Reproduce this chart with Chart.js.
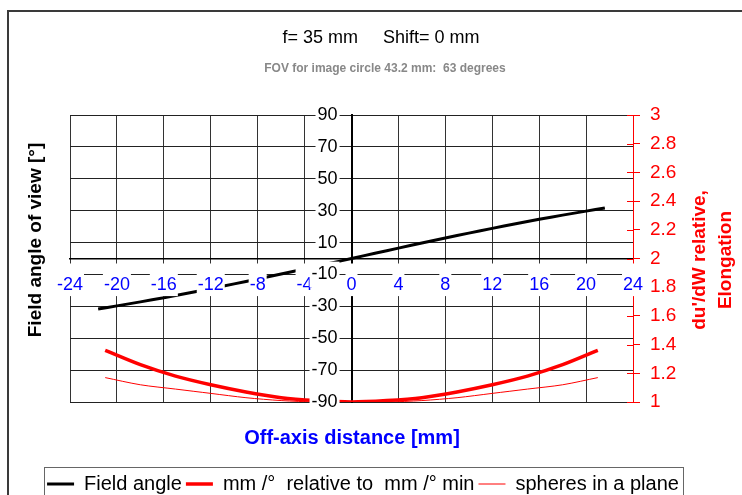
<!DOCTYPE html>
<html><head><meta charset="utf-8">
<script src="https://cdn.jsdelivr.net/npm/chart.js@4.4.1/dist/chart.umd.min.js"></script>
<style>
html,body{margin:0;padding:0;background:#fff;overflow:hidden;width:742px;height:495px;}
#wrap{position:relative;width:742px;height:495px;overflow:hidden;font-family:"Liberation Sans",Arial,sans-serif;}
#frame{position:absolute;left:7px;top:10px;width:800px;height:600px;border:2px solid #3a3a3a;}
#legbox{position:absolute;left:44px;top:467px;width:638px;height:60px;border:1px solid #666;}
canvas{position:absolute;left:0;top:0;}
.t{position:absolute;white-space:pre;text-align:center;}
</style></head>
<body><div id="wrap">
<div id="frame"></div>
<div id="legbox"></div>
<canvas id="c" width="742" height="504"></canvas>
<div class="t" style="left:181px;top:27px;width:400px;font-size:18px;line-height:20px;color:#000;">f= 35 mm     Shift= 0 mm</div>
<div class="t" style="left:185px;top:61px;width:400px;font-size:12px;line-height:14px;font-weight:bold;color:#888;">FOV for image circle 43.2 mm:  63 degrees</div>
<div class="t" style="left:152px;top:425px;width:400px;font-size:20px;line-height:24px;font-weight:bold;color:#0000ff;">Off-axis distance [mm]</div>
<div class="t" style="left:-115px;top:228px;width:300px;height:24px;font-size:19px;line-height:24px;font-weight:bold;color:#000;transform:rotate(-90deg);">Field angle of view [°]</div>
<div class="t" style="left:562px;top:234px;width:300px;height:52px;font-size:19px;line-height:26px;font-weight:bold;color:#ff0000;transform:rotate(-90deg);">du'/dW relative,
Elongation</div>
</div>
<script>
const xTicks = [-24,-20,-16,-12,-8,-4,0,4,8,12,16,20,24];
const yTicks = [-90,-70,-50,-30,-10,10,30,50,70,90];
const y1Ticks = [1,1.2,1.4,1.6,1.8,2,2.2,2.4,2.6,2.8,3];

const seriesNames = ['Field angle','mm /°  relative to  mm /° min','spheres in a plane'];

const fieldX = [-21.6,-20,-18,-16,-14,-12,-10,-8,-6,-4,-2,0,2,4,6,8,10,12,14,16,18,20,21.6];
const fieldAngle = [-31.7,-29.7,-27.2,-24.6,-21.8,-18.9,-15.9,-12.9,-9.7,-6.5,-3.3,0,3.3,6.5,9.7,12.9,15.9,18.9,21.8,24.6,27.2,29.7,31.7];

const ratioX = [-21,-18,-15,-12,-9,-6,-3,0,3,6,9,12,15,18,21];
const mmPerDegRel = [1.36,1.26,1.18,1.12,1.07,1.03,1.01,1,1.01,1.03,1.07,1.12,1.18,1.26,1.36];
const spheres = [1.17,1.12,1.09,1.06,1.03,1.01,1.0,1,1.0,1.01,1.03,1.06,1.09,1.12,1.17];

Chart.defaults.font.family = '"Liberation Sans", Arial, sans-serif';

const pts = (xs, ys) => xs.map((x, i) => ({x: x, y: ys[i]}));
const setTicks = arr => s => { s.ticks = arr.map(v => ({value: v})); };

const innerTicks = {
  id: 'innerTicks',
  afterDatasetsDraw(chart) {
    const s = chart.scales.y1, ctx = chart.ctx;
    ctx.save();
    ctx.strokeStyle = '#ff0000';
    ctx.lineWidth = 1;
    s.ticks.forEach(t => {
      const py = Math.round(s.getPixelForValue(t.value)) + 0.5;
      ctx.beginPath(); ctx.moveTo(s.left - 6, py); ctx.lineTo(s.left, py); ctx.stroke();
    });
    ctx.restore();
  }
};

new Chart(document.getElementById('c'), {
  type: 'line',
  data: {
    datasets: [
      {label: seriesNames[0], data: pts(fieldX, fieldAngle), borderColor: '#000000', backgroundColor: '#000000',
       borderWidth: 3, pointRadius: 0, tension: 0.3, xAxisID: 'x', yAxisID: 'y'},
      {label: seriesNames[1], data: pts(ratioX, mmPerDegRel), borderColor: '#ff0000', backgroundColor: '#ff0000',
       borderWidth: 3.5, pointRadius: 0, tension: 0.3, xAxisID: 'x', yAxisID: 'y1'},
      {label: seriesNames[2], data: pts(ratioX, spheres), borderColor: '#ff0000', backgroundColor: '#ff0000',
       borderWidth: 1, pointRadius: 0, tension: 0.3, xAxisID: 'x', yAxisID: 'y1'}
    ]
  },
  options: {
    responsive: false,
    animation: false,
    layout: {padding: {top: 115, left: 0, right: 16, bottom: 0}},
    plugins: {
      title: {display: false},
      tooltip: {enabled: false},
      legend: {
        position: 'bottom',
        labels: {usePointStyle: true, pointStyle: 'line', pointStyleWidth: 27, padding: 4,
                 color: '#000', font: {size: 20}}
      }
    },
    scales: {
      x: {
        type: 'linear', position: {y: 0}, min: -24, max: 24,
        afterBuildTicks: setTicks(xTicks),
        grid: {color: '#333', lineWidth: 1, tickLength: 5},
        border: {color: '#000', width: 1.5},
        ticks: {color: '#0000ff', font: {size: 18}, padding: 11, autoSkip: false, maxRotation: 0,
                showLabelBackdrop: true, backdropColor: '#ffffff',
                backdropPadding: {top: 11, bottom: 0, left: 1, right: 1}, z: 1}
      },
      y: {
        type: 'linear', position: {x: 0}, min: -90, max: 90,
        afterBuildTicks: setTicks(yTicks),
        grid: {color: '#222', lineWidth: 1, tickLength: 12},
        border: {color: '#000', width: 2},
        ticks: {display: false}
      },
      yLab: {
        type: 'linear', position: {x: -1.19}, min: -90, max: 90,
        afterBuildTicks: setTicks(yTicks),
        grid: {display: false},
        border: {display: false},
        ticks: {color: '#000', font: {size: 18}, padding: 0, autoSkip: false,
                showLabelBackdrop: true, backdropColor: '#ffffff', backdropPadding: 2, z: 1}
      },
      y1: {
        type: 'linear', position: 'right', min: 1, max: 3,
        afterBuildTicks: setTicks(y1Ticks),
        afterFit: s => { s.width = 93; },
        grid: {drawOnChartArea: false, color: '#ff0000', tickLength: 7},
        border: {color: '#ff0000', width: 1},
        ticks: {color: '#ff0000', font: {size: 19}, padding: 10, autoSkip: false, callback: v => String(v)}
      },
      padL: {
        type: 'linear', position: 'left', display: true,
        afterFit: s => { s.width = 70; },
        grid: {display: false}, border: {display: false}, ticks: {display: false}
      },
      padB: {
        type: 'linear', position: 'bottom', display: true,
        afterFit: s => { s.height = 68; },
        grid: {display: false}, border: {display: false}, ticks: {display: false}
      }
    }
  },
  plugins: [innerTicks]
});
</script>
</body></html>
